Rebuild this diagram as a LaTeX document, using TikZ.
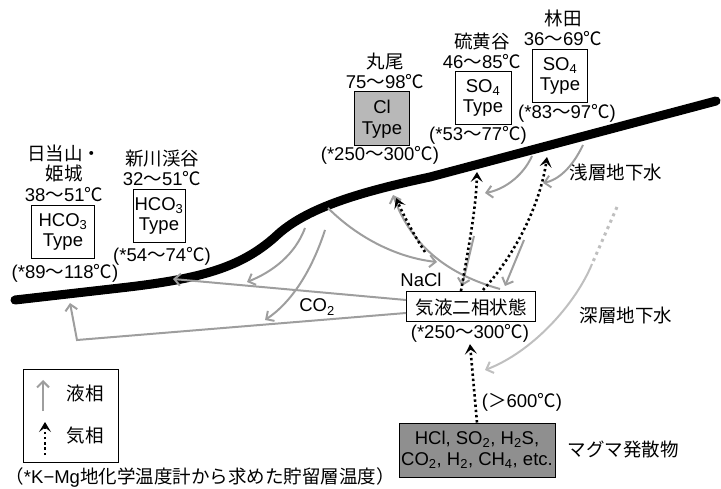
\documentclass[tikz,border=0pt]{standalone}
\usepackage{fontspec}
\setmainfont{Liberation Sans}
\newfontfamily\jp{Noto Sans CJK JP}
\usetikzlibrary{arrows.meta}
\definecolor{liqgray}{gray}{0.62}
\definecolor{deepgray}{gray}{0.75}
\definecolor{clgray}{gray}{0.72}
\definecolor{magmagray}{gray}{0.56}
\newcommand{\kara}{{\jp ～}}
\newcommand{\doC}{{\jp ℃}}

\begin{document}
\begin{tikzpicture}[x=1pt,y=-1pt,
  txt/.style={font=\fontsize{18.5}{20.5}\selectfont, inner sep=0pt, align=center},
  typebox/.style={txt, draw, line width=1pt, minimum height=53pt, minimum width=55pt},
  ground/.style={line width=9pt, line cap=round},
  liq/.style={draw=liqgray, line width=2pt, -{Straight Barb[length=6pt,width=12pt]}},
  gas/.style={line width=2.6pt, dash pattern=on 2.4pt off 2.8pt, -{Stealth[length=10pt,width=12pt,inset=4.5pt]}}]
\useasboundingbox (0,0) rectangle (721,489);

% ground surface
\coordinate (g0) at (15,300);
\coordinate (g1) at (120,288);
\coordinate (g2) at (275,237);
\coordinate (g3) at (430,177);
\coordinate (g4) at (716,101);
\draw[ground] (g0) -- (g1) .. controls (200,279) and (240,268) .. (g2)
  .. controls (305,208) and (360,192) .. (g3) -- (g4);

% springs
\node[typebox, minimum width=63pt] (hcoA) at (63,232) {HCO\textsubscript{3}\\Type};
\node[txt] (hcoAname) at (64,173) {{\jp 日当山・}\\{\jp 姫城}\\38\kara51\doC};
\node[txt] (hcoAtemp) at (65,273) {(*89\kara118\doC)};

\node[typebox, minimum width=52pt] (hcoB) at (159,216) {HCO\textsubscript{3}\\Type};
\node[txt] (hcoBname) at (162,168) {{\jp 新川渓谷}\\32\kara51\doC};
\node[txt] (hcoBtemp) at (162,256) {(*54\kara74\doC)};

\node[typebox, fill=clgray, minimum height=54pt] (clT) at (382,119) {Cl\\Type};
\node[txt] (clTname) at (385,71) {{\jp 丸尾}\\75\kara98\doC};
\node[txt] (clTtemp) at (380,155) {(*250\kara300\doC)};

\node[typebox, minimum width=56pt] (soA) at (483,98) {SO\textsubscript{4}\\Type};
\node[txt] (soAname) at (482,51) {{\jp 硫黄谷}\\46\kara85\doC};
\node[txt] (soAtemp) at (478,135) {(*53\kara77\doC)};

\node[typebox] (soB) at (560,76) {SO\textsubscript{4}\\Type};
\node[txt] (soBname) at (563,28) {{\jp 林田}\\36\kara69\doC};
\node[txt] (soBtemp) at (567,113) {(*83\kara97\doC)};

% reservoir and source
\node[txt, draw, line width=1pt, minimum width=129pt, minimum height=30pt] (state) at (471,307) {\jp 気液二相状態};
\node[txt] (tstate) at (470,333) {(*250\kara300\doC)};
\node[txt] (nacl) at (421,280) {NaCl};
\node[txt] (co2) at (317,307) {CO\textsubscript{2}};
\node[txt] (shallow) at (616,172) {\jp 浅層地下水};
\node[txt] (deep) at (626,315) {\jp 深層地下水};
\node[txt, draw, line width=1pt, fill=magmagray, minimum width=156pt, minimum height=54pt] (magma) at (477,450)
  {HCl, SO\textsubscript{2}, H\textsubscript{2}S,\\CO\textsubscript{2}, H\textsubscript{2}, CH\textsubscript{4}, etc.};
\node[txt] (magmaname) at (623,450) {\jp マグマ発散物};
\node[txt] (t600) at (522,402) {({\jp ＞}600\doC)};

% liquid paths
\coordinate (h1) at (173,279);
\coordinate (k1) at (77,340);
\coordinate (h2) at (70,303);
\draw[liq] ([yshift=7pt]state.west) -- (h1);
\draw[liq] ([yshift=-6pt]state.west) -- (k1) -- (h2);
\coordinate (s1) at (328,208);
\coordinate (e1) at (437,262);
\draw[liq] (s1) .. controls (360,240) and (400,258) .. (e1);
\coordinate (s2) at (305,228);
\coordinate (e2) at (247,282);
\draw[liq] (s2) .. controls (295,255) and (272,272) .. (e2);
\coordinate (s3) at (325,230);
\coordinate (e3) at (265,320);
\draw[liq] (s3) .. controls (312,270) and (292,302) .. (e3);
\coordinate (s4) at (500,289);
\coordinate (e4) at (393,195);
\draw[liq] (s4) .. controls (450,275) and (412,248) .. (e4);
\coordinate (s5) at (474,236);
\coordinate (e5) at (462,286);
\draw[liq] (s5) -- (e5);
\coordinate (s6) at (524,240);
\coordinate (e6) at (505,286);
\draw[liq] (s6) -- (e6);
\coordinate (s7) at (532,156);
\coordinate (e7) at (485,193);
\draw[liq] (s7) .. controls (522,178) and (502,190) .. (e7);
\coordinate (s8) at (583,145);
\coordinate (e8) at (543,183);
\draw[liq] (s8) .. controls (572,168) and (558,180) .. (e8);
\coordinate (s9) at (617,207);
\coordinate (m9) at (592,264);
\coordinate (e9) at (485,370);
\draw[deepgray, line width=3pt, dash pattern=on 3pt off 4pt] (s9) -- (m9);
\draw[liq, draw=deepgray] (m9) .. controls (575,305) and (532,352) .. (e9);

% gas paths
\coordinate (s10) at (425,252);
\coordinate (e10) at (396,198);
\draw[gas] (s10) .. controls (412,232) and (402,212) .. (e10);
\coordinate (s11) at (461,291);
\coordinate (e11) at (477,172);
\draw[gas] (s11) .. controls (468,250) and (476,210) .. (e11);
\coordinate (s12) at (483,290);
\coordinate (e12) at (547,157);
\draw[gas] (s12) .. controls (515,255) and (540,205) .. (e12);
\draw[gas] (magma.north) -- ([yshift=-2pt]tstate.south);

% legend
\draw[line width=1pt] (23,370) rectangle (118,462);
\coordinate (lq0) at (43,411);
\coordinate (lq1) at (43,380);
\draw[liq] (lq0) -- (lq1);
\node[txt] (lqtext) at (85,393) {\jp 液相};
\coordinate (gs0) at (45,455);
\coordinate (gs1) at (45,422);
\draw[gas] (gs0) -- (gs1);
\node[txt] (gstext) at (85,436) {\jp 気相};
\node[txt] (note) at (200,478) {{\jp （}*K−Mg{\jp 地化学温度計から求めた貯留層温度）}};
\end{tikzpicture}
\end{document}
